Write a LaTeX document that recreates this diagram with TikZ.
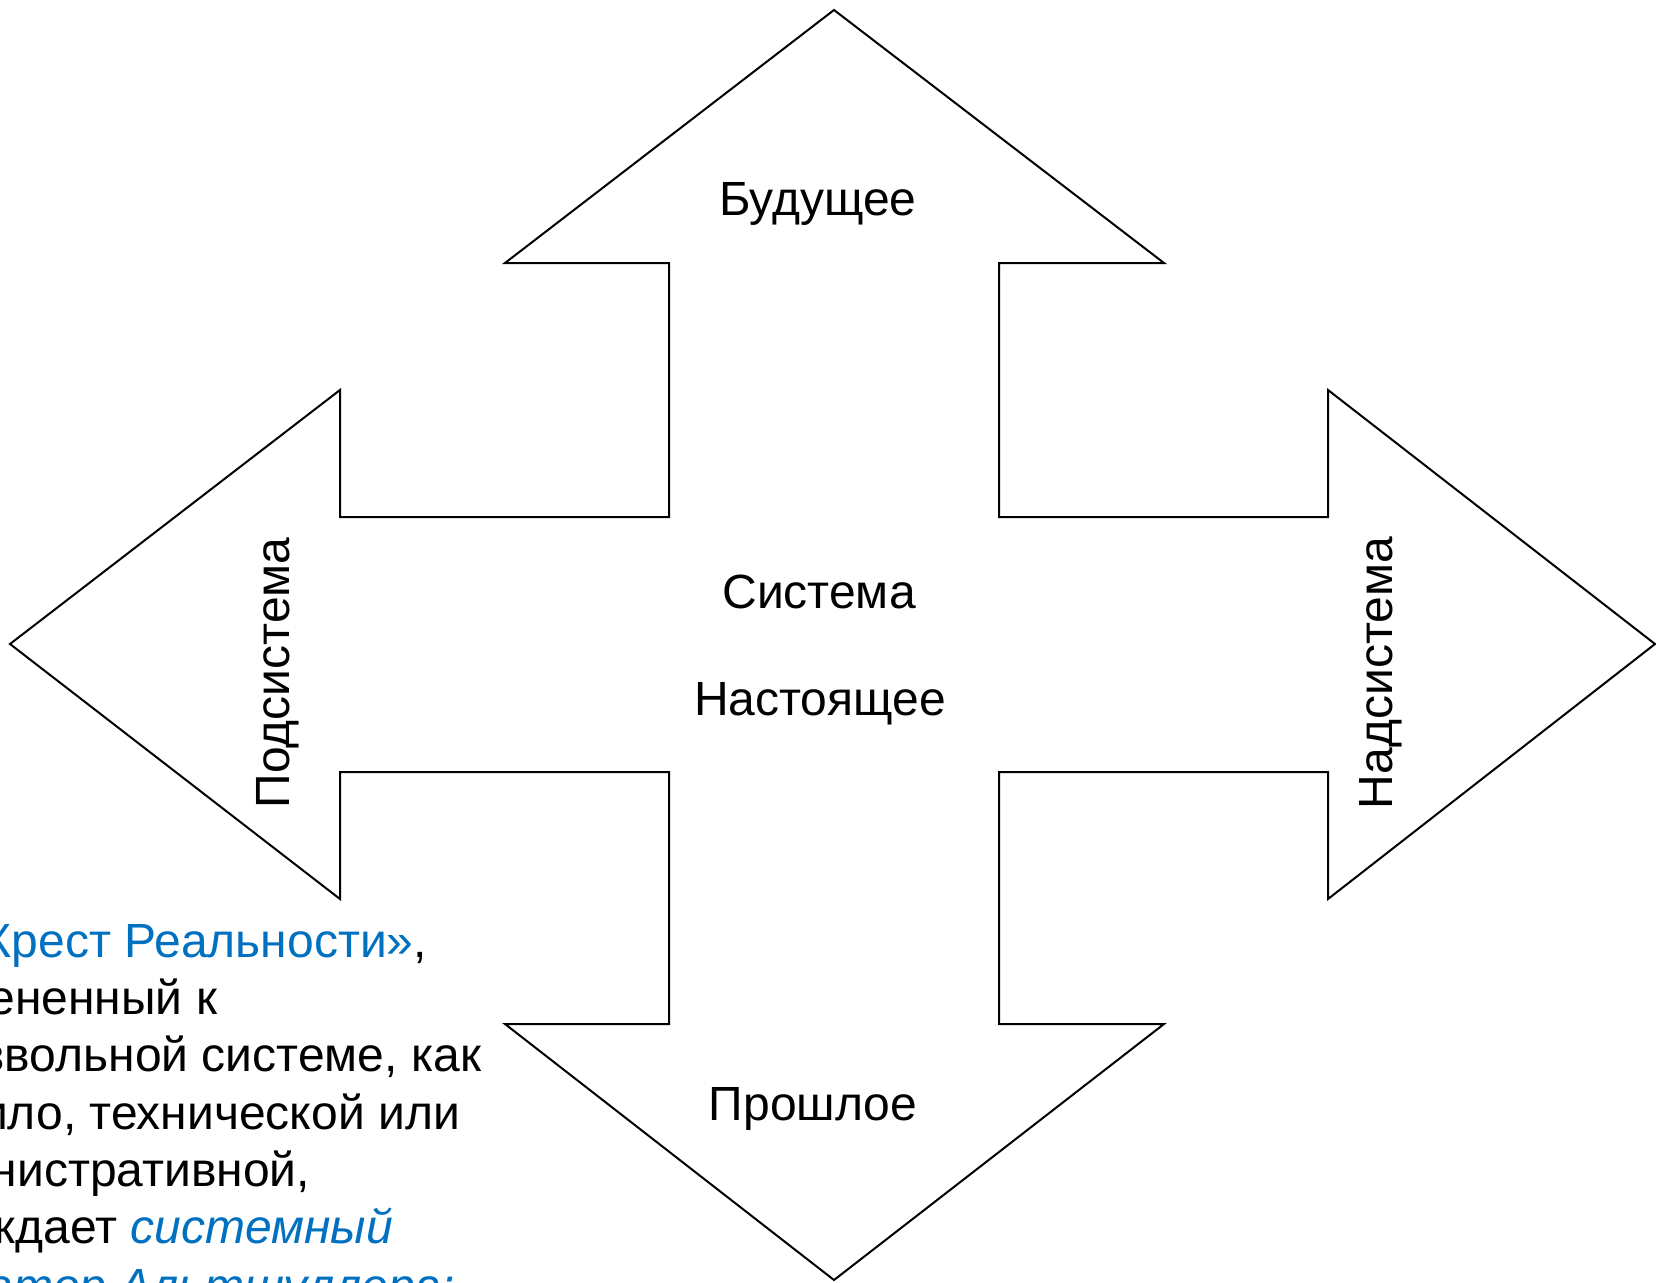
\documentclass[tikz,border=0pt]{standalone}
\usepackage{fontspec}
\setmainfont{Liberation Sans}
\definecolor{sinij}{RGB}{0,112,192}
\newcommand{\nadpisRazmer}{\fontsize{48}{56}\selectfont}
\newcommand{\tekstRazmer}{\fontsize{48}{57}\selectfont}

\begin{document}
\begin{tikzpicture}[x=1pt,y=-1pt,line width=2pt,
	nadpis/.style={font=\nadpisRazmer,inner sep=0pt,anchor=base},
	stroka/.style={font=\tekstRazmer,inner sep=0pt,anchor=base east}]
	\clip (0,0) rectangle (1656,1282);
	% крест: центр и четыре стрелки
	\draw (834,10)--(1164,263)--(999,263)--(999,517)--(1328,517)--(1328,390)--(1655,644)
	--(1328,899)--(1328,772)--(999,772)--(999,1024)--(1164,1024)--(834,1280)
	--(505,1024)--(669,1024)--(669,772)--(340,772)--(340,899)--(10,644)
	--(340,390)--(340,517)--(669,517)--(669,263)--(505,263)--cycle;
	% подписи стрелок
	\node (budushchee) at(818,215)[nadpis]{Будущее};
	\node (sistema) at(819,608)[nadpis]{Система};
	\node (nastoyashchee) at(820,715)[nadpis]{Настоящее};
	\node (proshloe) at(813,1120)[nadpis]{Прошлое};
	\node (podsistema) at(289,673)[nadpis,rotate=90]{Подсистема};
	\node (nadsistema) at(1392,673)[nadpis,rotate=90]{Надсистема};
	% текст внизу слева
	\node (stroka1) at(428,957)[stroka]{{\color{sinij}«Крест Реальности»},};
	\node (stroka2) at(218,1014)[stroka]{примененный к};
	\node (stroka3) at(482,1071)[stroka]{произвольной системе, как};
	\node (stroka4) at(461,1129)[stroka]{правило, технической или};
	\node (stroka5) at(311,1186)[stroka]{административной,};
	\node (stroka6) at(394,1243)[stroka]{порождает {\color{sinij}\itshape системный}};
	\node (stroka7) at(456,1302)[stroka]{{\color{sinij}\itshape оператор Альтшуллера:}};
\end{tikzpicture}
\end{document}
